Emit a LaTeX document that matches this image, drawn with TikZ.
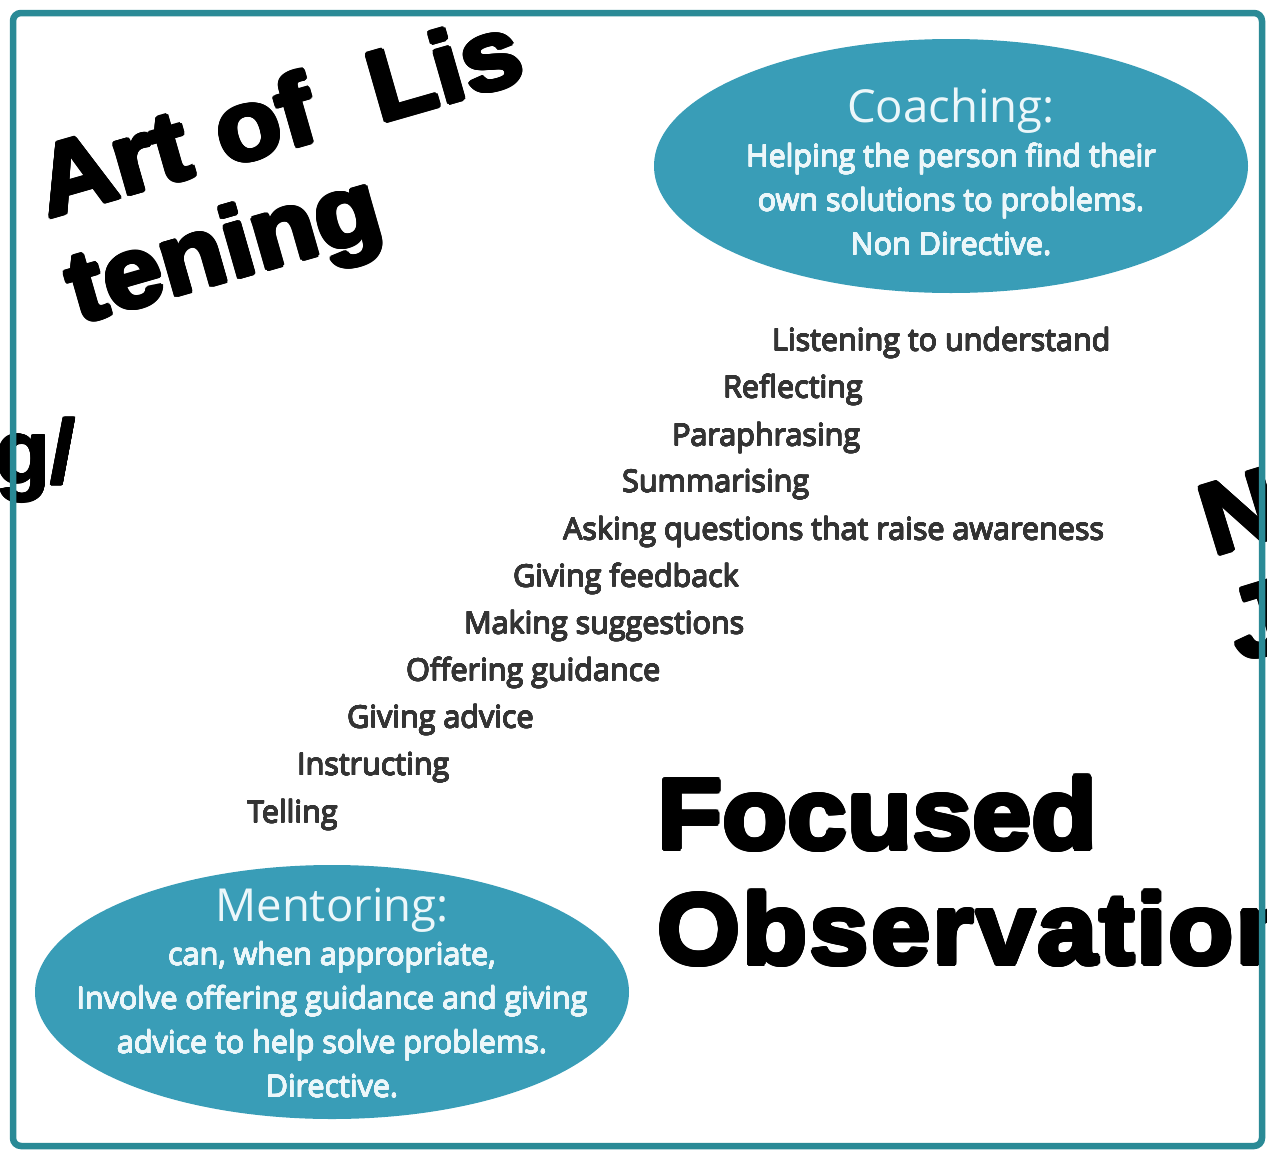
\documentclass[tikz,border=0pt]{standalone}
\usepackage{fontspec}
\usepackage[copies]{contour}
\setmainfont{Open Sans}
\newfontfamily\heavyfont[FakeStretch=1.07]{Liberation Sans}
\newfontfamily\boldsans{Liberation Sans}
\usetikzlibrary{shapes.geometric}
\definecolor{frameteal}{RGB}{42,138,150}
\definecolor{blobteal}{RGB}{57,157,183}
\definecolor{blobtext}{RGB}{236,247,250}
\definecolor{steptext}{RGB}{52,52,52}

\begin{document}
\begin{tikzpicture}[x=1pt,y=-1pt,
  blob/.style={ellipse,fill=blobteal,inner sep=0pt,minimum width=594pt,minimum height=254pt},
  blobwords/.style={inner sep=0pt,text=blobtext,align=center,font=\fontsize{30.5}{44}\selectfont\contourlength{0.4pt}},
  stage/.style={anchor=west,inner sep=0pt,text=steptext,font=\fontsize{30.5}{36}\selectfont\contourlength{0.45pt}},
  heavy/.style={inner sep=0pt,text=black,font=\heavyfont\bfseries\fontsize{100}{110}\selectfont\contourlength{2.2pt}}]

% canvas
\useasboundingbox (0,0) rectangle (1267,1154);
\clip (0,0) rectangle (1267,1154);
\fill[white] (0,0) rectangle (1267,1154);

% ellipses
\node[blob] (coaching) at (951,166) {};
\node[blobwords] (coachingtext) at (951,172) {{\fontsize{45.5}{44}\selectfont Coaching:}\\\contour{blobtext}{Helping the person find their}\\\contour{blobtext}{own solutions to problems.}\\\contour{blobtext}{Non Directive.}};
\node[blob] (mentoring) at (332,992) {};
\node[blobwords] (mentoringtext) at (332,993) {{\fontsize{45.5}{44}\selectfont Mentoring:}\\\contour{blobtext}{can, when appropriate,}\\\contour{blobtext}{Involve offering guidance and giving}\\\contour{blobtext}{advice to help solve problems.}\\\contour{blobtext}{Directive.}};

% stairs
\node[stage] (listening) at (772,343) {\contour{steptext}{Listening to understand}};
\node[stage] (reflecting) at (723,390) {\contour{steptext}{Reflecting}};
\node[stage] (paraphrasing) at (672,438) {\contour{steptext}{Paraphrasing}};
\node[stage] (summarising) at (622,485) {\contour{steptext}{Summarising}};
\node[stage] (asking) at (563,532) {\contour{steptext}{Asking questions that raise awareness}};
\node[stage] (feedback) at (513,579) {\contour{steptext}{Giving feedback}};
\node[stage] (suggestions) at (464,626) {\contour{steptext}{Making suggestions}};
\node[stage] (guidance) at (406,673) {\contour{steptext}{Offering guidance}};
\node[stage] (advice) at (347,720) {\contour{steptext}{Giving advice}};
\node[stage] (instructing) at (297,768) {\contour{steptext}{Instructing}};
\node[stage] (telling) at (247,815) {\contour{steptext}{Telling}};

% big words
\node[heavy,rotate=16,anchor=base west] (artA) at (48,218) {\contour{black}{Art of~~Lis}};
\node[heavy,rotate=16,anchor=base west] (artB) at (78,324) {\contour{black}{tening}};
\node[heavy,anchor=base west] (focused) at (657,849) {\contour{black}{Focused}};
\node[heavy,anchor=base west] (observation) at (657,964) {\addfontfeature{LetterSpace=2}\contour{black}{Observation}};
\node[heavy,rotate=17,anchor=base west] (letterN) at (1213,556) {\contour{black}{N}};
\node[heavy,rotate=17,anchor=base west] (letterJ) at (1240,662) {\contour{black}{J}};
\node[inner sep=0pt,font=\boldsans\bfseries\fontsize{90}{90}\selectfont\contourlength{1pt},anchor=base east] (slashg) at (76,483) {\contour{black}{g/}};

% outline
\draw[frameteal,line width=6.5pt,rounded corners=8pt] (13,13) rectangle (1262,1146);
\end{tikzpicture}
\end{document}
